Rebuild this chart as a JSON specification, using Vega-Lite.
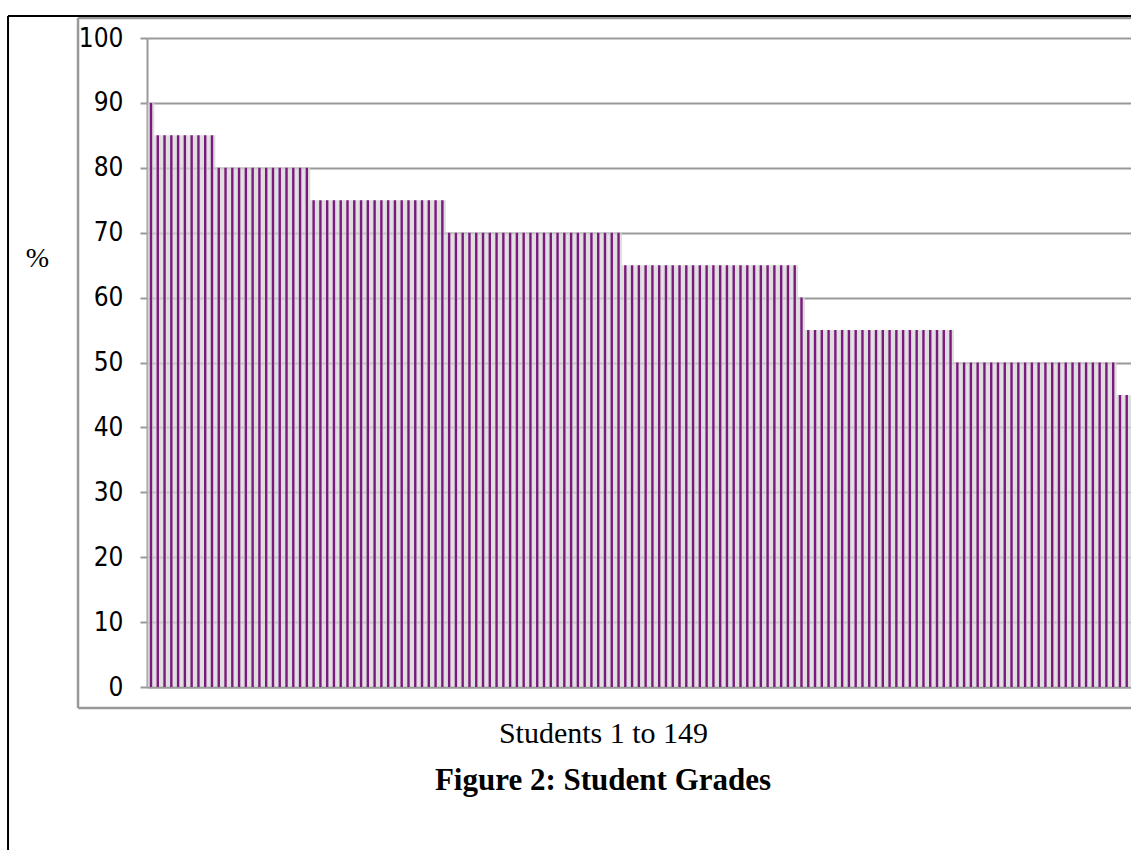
{
  "$schema": "https://vega.github.io/schema/vega-lite/v6.json",
  "autosize": {"type": "none"},
  "width": 984,
  "height": 649,
  "padding": {"left": 147, "top": 38, "right": 0, "bottom": 163},
  "background": "white",
  "config": {"view": {"stroke": null}},
  "title": {
    "text": "Figure 2: Student Grades",
    "orient": "bottom",
    "anchor": "middle",
    "dx": -36,
    "offset": -91,
    "font": "Liberation Serif",
    "fontSize": 31,
    "fontWeight": "bold",
    "color": "black"
  },
  "datasets": {
    "grades": [
      {"student": 1, "grade": 90},
      {"student": 2, "grade": 85}, {"student": 3, "grade": 85}, {"student": 4, "grade": 85}, {"student": 5, "grade": 85}, {"student": 6, "grade": 85}, {"student": 7, "grade": 85}, {"student": 8, "grade": 85}, {"student": 9, "grade": 85}, {"student": 10, "grade": 85},
      {"student": 11, "grade": 80}, {"student": 12, "grade": 80}, {"student": 13, "grade": 80}, {"student": 14, "grade": 80}, {"student": 15, "grade": 80}, {"student": 16, "grade": 80}, {"student": 17, "grade": 80}, {"student": 18, "grade": 80}, {"student": 19, "grade": 80}, {"student": 20, "grade": 80}, {"student": 21, "grade": 80}, {"student": 22, "grade": 80}, {"student": 23, "grade": 80}, {"student": 24, "grade": 80},
      {"student": 25, "grade": 75}, {"student": 26, "grade": 75}, {"student": 27, "grade": 75}, {"student": 28, "grade": 75}, {"student": 29, "grade": 75}, {"student": 30, "grade": 75}, {"student": 31, "grade": 75}, {"student": 32, "grade": 75}, {"student": 33, "grade": 75}, {"student": 34, "grade": 75}, {"student": 35, "grade": 75}, {"student": 36, "grade": 75}, {"student": 37, "grade": 75}, {"student": 38, "grade": 75}, {"student": 39, "grade": 75}, {"student": 40, "grade": 75}, {"student": 41, "grade": 75}, {"student": 42, "grade": 75}, {"student": 43, "grade": 75}, {"student": 44, "grade": 75},
      {"student": 45, "grade": 70}, {"student": 46, "grade": 70}, {"student": 47, "grade": 70}, {"student": 48, "grade": 70}, {"student": 49, "grade": 70}, {"student": 50, "grade": 70}, {"student": 51, "grade": 70}, {"student": 52, "grade": 70}, {"student": 53, "grade": 70}, {"student": 54, "grade": 70}, {"student": 55, "grade": 70}, {"student": 56, "grade": 70}, {"student": 57, "grade": 70}, {"student": 58, "grade": 70}, {"student": 59, "grade": 70}, {"student": 60, "grade": 70}, {"student": 61, "grade": 70}, {"student": 62, "grade": 70}, {"student": 63, "grade": 70}, {"student": 64, "grade": 70}, {"student": 65, "grade": 70}, {"student": 66, "grade": 70}, {"student": 67, "grade": 70}, {"student": 68, "grade": 70}, {"student": 69, "grade": 70}, {"student": 70, "grade": 70},
      {"student": 71, "grade": 65}, {"student": 72, "grade": 65}, {"student": 73, "grade": 65}, {"student": 74, "grade": 65}, {"student": 75, "grade": 65}, {"student": 76, "grade": 65}, {"student": 77, "grade": 65}, {"student": 78, "grade": 65}, {"student": 79, "grade": 65}, {"student": 80, "grade": 65}, {"student": 81, "grade": 65}, {"student": 82, "grade": 65}, {"student": 83, "grade": 65}, {"student": 84, "grade": 65}, {"student": 85, "grade": 65}, {"student": 86, "grade": 65}, {"student": 87, "grade": 65}, {"student": 88, "grade": 65}, {"student": 89, "grade": 65}, {"student": 90, "grade": 65}, {"student": 91, "grade": 65}, {"student": 92, "grade": 65}, {"student": 93, "grade": 65}, {"student": 94, "grade": 65}, {"student": 95, "grade": 65}, {"student": 96, "grade": 65},
      {"student": 97, "grade": 60},
      {"student": 98, "grade": 55}, {"student": 99, "grade": 55}, {"student": 100, "grade": 55}, {"student": 101, "grade": 55}, {"student": 102, "grade": 55}, {"student": 103, "grade": 55}, {"student": 104, "grade": 55}, {"student": 105, "grade": 55}, {"student": 106, "grade": 55}, {"student": 107, "grade": 55}, {"student": 108, "grade": 55}, {"student": 109, "grade": 55}, {"student": 110, "grade": 55}, {"student": 111, "grade": 55}, {"student": 112, "grade": 55}, {"student": 113, "grade": 55}, {"student": 114, "grade": 55}, {"student": 115, "grade": 55}, {"student": 116, "grade": 55}, {"student": 117, "grade": 55}, {"student": 118, "grade": 55}, {"student": 119, "grade": 55},
      {"student": 120, "grade": 50}, {"student": 121, "grade": 50}, {"student": 122, "grade": 50}, {"student": 123, "grade": 50}, {"student": 124, "grade": 50}, {"student": 125, "grade": 50}, {"student": 126, "grade": 50}, {"student": 127, "grade": 50}, {"student": 128, "grade": 50}, {"student": 129, "grade": 50}, {"student": 130, "grade": 50}, {"student": 131, "grade": 50}, {"student": 132, "grade": 50}, {"student": 133, "grade": 50}, {"student": 134, "grade": 50}, {"student": 135, "grade": 50}, {"student": 136, "grade": 50}, {"student": 137, "grade": 50}, {"student": 138, "grade": 50}, {"student": 139, "grade": 50}, {"student": 140, "grade": 50}, {"student": 141, "grade": 50}, {"student": 142, "grade": 50}, {"student": 143, "grade": 50},
      {"student": 144, "grade": 45}, {"student": 145, "grade": 45}, {"student": 146, "grade": 45}, {"student": 147, "grade": 45}, {"student": 148, "grade": 45}, {"student": 149, "grade": 45}
    ]
  },
  "layer": [
    {
      "data": {"name": "grades"},
      "mark": {"type": "bar", "width": 6.776, "color": "#d8d4d8", "opacity": 0.8},
      "encoding": {
        "x": {
          "field": "student",
          "type": "quantitative",
          "scale": {"domain": [0.41, 145.63], "nice": false, "zero": false, "padding": 0},
          "axis": {
            "labels": false,
            "ticks": false,
            "grid": false,
            "domainColor": "#999999",
            "domainWidth": 2,
            "title": "Students 1 to 149",
            "titleFont": "Liberation Serif",
            "titleFontSize": 30,
            "titleFontWeight": "normal",
            "titleColor": "black",
            "titleX": 456,
            "titleY": 46,
            "titleAlign": "center",
            "titleBaseline": "middle"
          }
        },
        "y": {
          "field": "grade",
          "type": "quantitative",
          "scale": {"domain": [0, 100], "nice": false, "padding": 0},
          "axis": {
            "values": [0, 10, 20, 30, 40, 50, 60, 70, 80, 90, 100],
            "title": "%",
            "titleAngle": 0,
            "titleX": -110,
            "titleY": 220,
            "titleAlign": "center",
            "titleBaseline": "middle",
            "titleFont": "Liberation Serif",
            "titleFontSize": 28,
            "titleFontWeight": "normal",
            "titleColor": "black",
            "labelFont": "Liberation Sans Narrow, DejaVu Sans Condensed, sans-serif",
            "labelFontSize": 26,
            "labelColor": "black",
            "labelPadding": 17,
            "tickSize": 7,
            "tickColor": "#999999",
            "tickWidth": 2,
            "domainColor": "#999999",
            "domainWidth": 2,
            "gridColor": "#999999",
            "gridWidth": 2,
            "gridOpacity": 1
          }
        }
      }
    },
    {
      "data": {"name": "grades"},
      "mark": {"type": "bar", "width": 2.4, "color": "#7b1a7d"},
      "encoding": {
        "x": {"field": "student", "type": "quantitative"},
        "y": {"field": "grade", "type": "quantitative"}
      }
    },
    {
      "data": {"values": [{}]},
      "mark": {"type": "rule", "color": "#999999", "strokeWidth": 2.5},
      "encoding": {
        "x": {"datum": -9.77, "type": "quantitative"},
        "y": {"datum": 103.08, "type": "quantitative"},
        "y2": {"datum": -3.24}
      }
    },
    {
      "data": {"values": [{}]},
      "mark": {"type": "rule", "color": "#999999", "strokeWidth": 2.5},
      "encoding": {
        "x": {"datum": -9.77, "type": "quantitative"},
        "x2": {"datum": 150},
        "y": {"datum": 103.08, "type": "quantitative"}
      }
    },
    {
      "data": {"values": [{}]},
      "mark": {"type": "rule", "color": "#999999", "strokeWidth": 2.5},
      "encoding": {
        "x": {"datum": -9.77, "type": "quantitative"},
        "x2": {"datum": 150},
        "y": {"datum": -3.24, "type": "quantitative"}
      }
    },
    {
      "data": {"values": [{}]},
      "mark": {"type": "rule", "color": "black", "strokeWidth": 2},
      "encoding": {
        "x": {"datum": -20.1, "type": "quantitative"},
        "y": {"datum": 103.39, "type": "quantitative"},
        "y2": {"datum": -26}
      }
    },
    {
      "data": {"values": [{}]},
      "mark": {"type": "rule", "color": "black", "strokeWidth": 2},
      "encoding": {
        "x": {"datum": -20.1, "type": "quantitative"},
        "x2": {"datum": 150},
        "y": {"datum": 103.39, "type": "quantitative"}
      }
    }
  ]
}
